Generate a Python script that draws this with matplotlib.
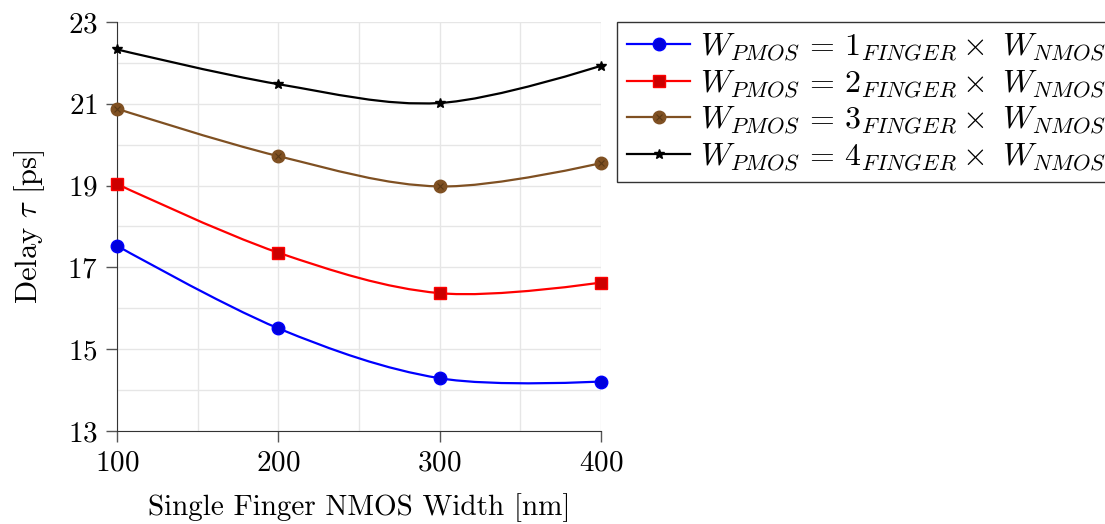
import numpy as np
import matplotlib
matplotlib.use("Agg")
import matplotlib.pyplot as plt
from matplotlib.path import Path
from matplotlib.patches import PathPatch
from matplotlib.lines import Line2D

plt.rcParams['font.family'] = 'serif'
plt.rcParams['font.serif'] = ['cmr10']
plt.rcParams['mathtext.fontset'] = 'cm'
plt.rcParams['axes.formatter.use_mathtext'] = True
plt.rcParams['font.size'] = 21

width_nm = [100, 200, 300, 400]
delay_1f = [17.53, 15.51, 14.29, 14.21]
delay_2f = [19.04, 17.36, 16.37, 16.63]
delay_3f = [20.88, 19.72, 18.98, 19.55]
delay_4f = [22.33, 21.48, 21.02, 21.93]

labels = [r'$W_{PMOS}\,=\,%d_{FINGER} \times\ W_{NMOS}$' % k for k in (1, 2, 3, 4)]
series = [delay_1f, delay_2f, delay_3f, delay_4f]
colors = ['#0000ff', '#ff0000', '#7f5022', 'black']
mfc = ['#0000dd', '#cc0000', '#7f5022', 'black']
markers = ['o', 's', 'o', '*']
msizes = [9, 9, 9, 7]


def smooth_path(x, y, k=0.17):
    # bezier through the points, like tikz "smooth"
    p = np.column_stack([x, y]).astype(float)
    verts = [p[0]]
    codes = [Path.MOVETO]
    n = len(p)
    for i in range(n - 1):
        t0 = (p[i + 1] - p[i - 1]) if i > 0 else (p[1] - p[0])
        t1 = (p[i + 2] - p[i]) if i + 2 < n else (p[i + 1] - p[i])
        c0 = p[i] + k * t0 if i > 0 else p[i]
        c1 = p[i + 1] - k * t1 if i + 2 < n else p[i + 1]
        verts += [c0, c1, p[i + 1]]
        codes += [Path.CURVE4] * 3
    return Path(verts, codes)


fig = plt.figure(figsize=(11.05, 5.24), dpi=100)
ax = fig.add_axes([0.1059, 0.1775, 0.438, 0.7805])

handles = []
for i, (ys, c, fc, m, ms, lab) in enumerate(zip(series, colors, mfc, markers, msizes, labels)):
    ax.add_patch(PathPatch(smooth_path(width_nm, ys), fill=False, edgecolor=c, lw=1.6, zorder=3))
    ax.plot(width_nm, ys, ls='none', marker=m, ms=ms, mfc=fc, mec=c, zorder=4, clip_on=False)
    h = Line2D([], [], color=c, lw=1.6, marker=m, mfc=fc, mec=c, ms=ms)
    if i == 2:
        # otimes-like cross inside the brown circles
        ax.plot(width_nm, ys, ls='none', marker='x', ms=5, mew=0.8, color='#5a3815',
                zorder=5, clip_on=False)
        h = (h, Line2D([], [], ls='none', marker='x', ms=5, mew=0.8, color='#5a3815'))
    handles.append(h)

ax.set_xlim(100, 400)
ax.set_ylim(13, 23)
ax.set_xticks(width_nm)
ax.set_yticks([13, 15, 17, 19, 21, 23])
ax.set_xticks([150, 250, 350], minor=True)
ax.set_yticks([14, 16, 18, 20, 22], minor=True)
ax.grid(True, which='both', color='#e6e6e6', lw=1)
ax.set_axisbelow(True)
ax.tick_params(which='major', length=8, width=1, color='#555555', pad=6)
ax.tick_params(which='minor', length=0)
for s in ['top', 'right']:
    ax.spines[s].set_visible(False)
for s in ['left', 'bottom']:
    ax.spines[s].set_color('#333333')

ax.set_xlabel('Single Finger NMOS Width [nm]', labelpad=12)
ax.set_ylabel(r'Delay $\tau$ [ps]', labelpad=14, fontsize=22)

leg = ax.legend(handles, labels, loc='upper left', bbox_to_anchor=(1.033, 1.0),
                frameon=True, fancybox=False, edgecolor='#333333', framealpha=1,
                fontsize=23, handlelength=2.0, handletextpad=0.3, borderpad=0.3,
                labelspacing=0.15, borderaxespad=0)
leg.get_frame().set_linewidth(1)

fig.savefig('out.png', dpi=100)
